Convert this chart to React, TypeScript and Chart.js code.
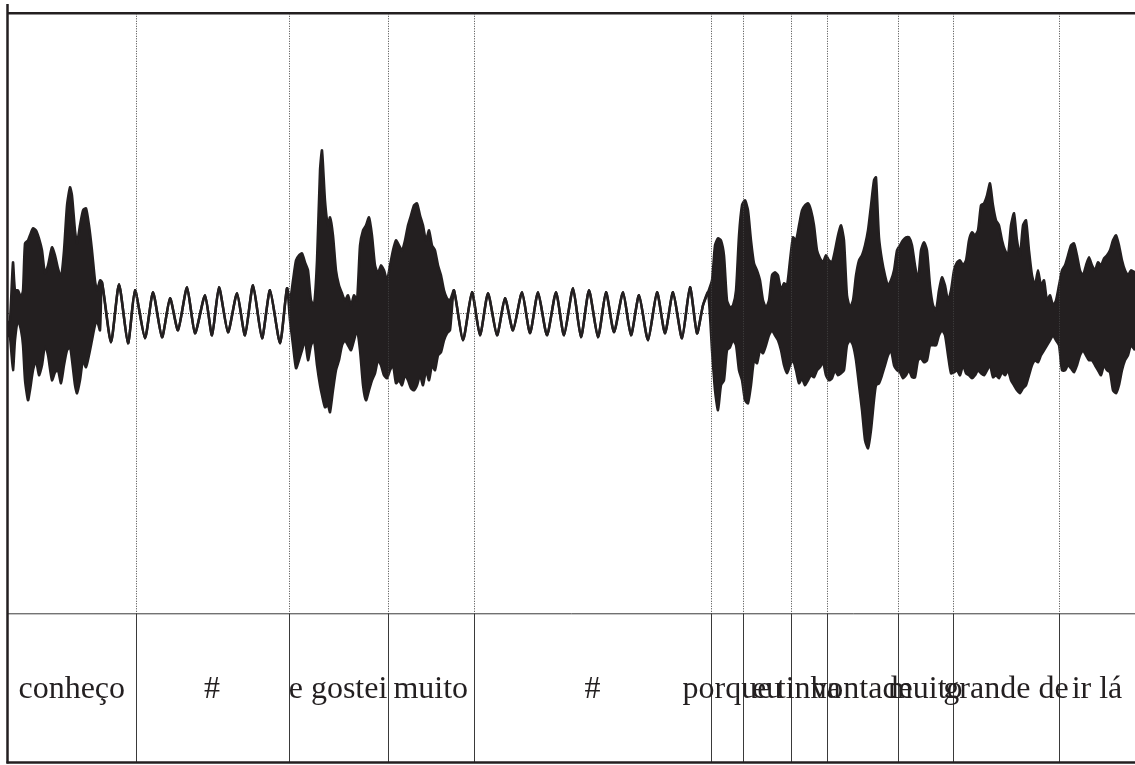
import React, { useEffect, useRef } from "react";
import { Chart, registerables } from "chart.js";

Chart.register(...registerables);

// time of each envelope sample, in ms
const waveTime = [
  0, 10, 25, 35, 50, 65, 75, 85, 100, 110, 125, 140, 155, 170, 185, 200, 220, 235, 250, 265, 280, 295, 310, 320, 335, 345, 360, 375, 390, 405, 420, 435, 445, 460,
  470, 515, 555, 600, 635, 685, 725, 770, 810, 850, 895, 935, 985, 1020, 1055, 1100, 1145, 1185, 1225, 1270, 1310, 1360, 1395,
  1410, 1425, 1440, 1455, 1470, 1485, 1500, 1515, 1530, 1545, 1560, 1570, 1585, 1600, 1610, 1625, 1640, 1655, 1670, 1685, 1700, 1715, 1730, 1745, 1760, 1775, 1790, 1805, 1820, 1835, 1850, 1865, 1880, 1895, 1910, 1925, 1940, 1955, 1970, 1985, 2000, 2015, 2030, 2045, 2060, 2075, 2090, 2105, 2120, 2135, 2150, 2165, 2180, 2195, 2210,
  2230, 2275, 2320, 2360, 2400, 2445, 2485, 2525, 2570, 2610, 2650, 2695, 2740, 2780, 2825, 2865, 2905, 2950, 2990, 3030, 3075, 3115, 3155, 3200, 3245, 3285, 3325, 3370, 3410, 3445, 3475, 3500,
  3520, 3535, 3550, 3565, 3580, 3595, 3610, 3625, 3640, 3655, 3670, 3685, 3700, 3715, 3730, 3745, 3760, 3775, 3790, 3805, 3820, 3835, 3850, 3865, 3880, 3895, 3910, 3925, 3940, 3955, 3970, 3985, 4000, 4015, 4030, 4045, 4060, 4075, 4090, 4105, 4120, 4135, 4150, 4165, 4180, 4195, 4210, 4225, 4240, 4255, 4270, 4285, 4300, 4315, 4330,
  4340,
  4355, 4370, 4385, 4400, 4415, 4430, 4445, 4460, 4475, 4490, 4505, 4520, 4535, 4550, 4565, 4580, 4595, 4610, 4625, 4640, 4655, 4670, 4685, 4700, 4715, 4730, 4745, 4760, 4775, 4790, 4805, 4820, 4835, 4850, 4865, 4880, 4895, 4910, 4925, 4940, 4955, 4970, 4985, 5000, 5015, 5030, 5045, 5060, 5075, 5090, 5105, 5120, 5135, 5150, 5165, 5180, 5195, 5210, 5225, 5240, 5255, 5270, 5285, 5300, 5315, 5330, 5345, 5360, 5375, 5390, 5405, 5420, 5435, 5450, 5465, 5480, 5495, 5510, 5525, 5540, 5555, 5570, 5585, 5600, 5615,
  5635,
];

// upper envelope of the waveform (amplitude units, full scale = 300)
const waveUpper = [
  -10, -7, 51, 23, 23, 16, 23, 70, 73, 78, 85, 83, 75, 63, 40, 48, 66, 58, 45, 36, 63, 108, 126, 118, 83, 70, 88, 103, 105, 88, 63, 33, 23, 33,
  31, -29, 29, -30, 23, -25, 21, -24, 15, -17, 26, -20, 18, -22, 26, -19, 20, -22, 28, -25, 23, -30, 25,
  13, 33, 53, 58, 60, 51, 43, 13, 8, 53, 143, 163, 113, 88, 96, 78, 43, 28, 20, 13, 18, 8, 18, 13, 68, 83, 88, 96, 78, 48, 40, 48, 43, 33, 48, 63, 73, 68, 63, 73, 88, 98, 108, 110, 98, 88, 73, 83, 68, 63, 48, 38, 23, 15, 13,
  23, -27, 21, -22, 20, -22, 15, -17, 21, -20, 21, -22, 21, -22, 25, -24, 23, -24, 21, -19, 21, -22, 18, -27, 21, -20, 21, -25, 26, -20, 8, 21,
  33, 68, 75, 73, 58, 13, 6, 8, 23, 78, 108, 113, 103, 73, 50, 43, 33, 13, 6, 13, 38, 41, 38, 23, 30, 28, 53, 76, 73, 88, 103, 108, 110, 103, 88, 63, 55, 51, 58, 53, 51, 63, 78, 88, 73, 18, 6, 13, 38, 53, 58, 68, 83, 108, 133,
  136,
  76, 53, 38, 28, 33, 43, 63, 68, 73, 76, 76, 68, 48, 33, 63, 71, 63, 28, 8, 3, 23, 36, 28, 13, 23, 43, 51, 53, 48, 53, 73, 81, 78, 83, 108, 110, 118, 130, 108, 93, 88, 73, 63, 58, 88, 100, 73, 58, 88, 93, 63, 38, 28, 43, 28, 33, 13, 18, 8, 13, 28, 43, 48, 58, 68, 70, 58, 43, 38, 48, 56, 48, 43, 51, 48, 55, 58, 63, 73, 78, 68, 53, 43, 38, 43,
  41,
];

// lower envelope of the waveform
const waveLower = [
  -22, -24, -57, -27, -7, -17, -32, -67, -87, -77, -57, -47, -62, -52, -32, -42, -67, -59, -57, -70, -52, -37, -34, -47, -72, -80, -67, -47, -54, -42, -27, -12, -7, -17,
  31, -29, 29, -30, 23, -25, 21, -24, 15, -17, 26, -20, 18, -22, 26, -19, 20, -22, 28, -25, 23, -30, 25,
  -7, -32, -55, -47, -37, -27, -47, -32, -27, -52, -72, -82, -94, -92, -99, -77, -57, -47, -32, -27, -32, -37, -27, -17, -37, -72, -87, -77, -67, -60, -47, -52, -62, -65, -57, -52, -70, -67, -72, -62, -67, -75, -77, -72, -62, -72, -57, -67, -52, -57, -42, -39, -27, -20, -17,
  23, -27, 21, -22, 20, -22, 15, -17, 21, -20, 21, -22, 21, -22, 25, -24, 23, -24, 21, -19, 21, -22, 18, -27, 21, -20, 21, -25, 26, -20, 8, 21,
  -37, -77, -97, -72, -67, -37, -34, -27, -32, -57, -67, -87, -90, -72, -47, -50, -37, -40, -32, -22, -17, -22, -27, -37, -52, -60, -52, -47, -57, -70, -65, -72, -67, -62, -64, -57, -54, -49, -62, -67, -65, -57, -62, -60, -57, -32, -27, -32, -47, -72, -97, -127, -135, -117, -87,
  -72,
  -70, -62, -52, -42, -37, -52, -57, -59, -65, -62, -57, -64, -64, -47, -45, -49, -47, -32, -32, -32, -22, -17, -22, -42, -60, -59, -57, -62, -52, -60, -62, -65, -62, -57, -60, -62, -57, -52, -64, -62, -65, -59, -62, -57, -67, -72, -77, -80, -75, -72, -62, -52, -47, -49, -42, -37, -32, -27, -22, -27, -32, -57, -57, -52, -55, -59, -52, -42, -37, -42, -47, -47, -52, -57, -62, -52, -57, -59, -77, -80, -72, -57, -47, -42, -32,
  -37,
];

// TextGrid interval boundaries (ms) and labels
const tierBounds = [0, 637.5, 1402.5, 1897.5, 2330, 3515, 3675, 3915, 4092.5, 4447.5, 4725, 5255, 5635];
const tierLabels = ["conheço", "#", "e gostei", "muito", "#", "porque", "eu", "tinha", "vontade", "muito", "grande de", "ir lá"];

const INK = "#231f20";

export default function App() {
  const ref = useRef<HTMLCanvasElement | null>(null);

  useEffect(() => {
    const canvas = ref.current;
    if (!canvas) return;
    const n = Math.min(waveTime.length, waveUpper.length, waveLower.length);
    const upper = [];
    const lower = [];
    for (let i = 0; i < n; i++) {
      upper.push({ x: waveTime[i], y: waveUpper[i] });
      lower.push({ x: waveTime[i], y: waveLower[i] });
    }

    const gridPlugin = {
      id: "praatGrid",
      beforeDatasetsDraw(chart: any) {
        const { ctx, chartArea, scales } = chart;
        ctx.save();
        ctx.strokeStyle = "#444";
        ctx.lineWidth = 1;
        ctx.setLineDash([1, 1.5]);
        const y0 = Math.round(scales.y.getPixelForValue(0)) + 0.5;
        ctx.beginPath();
        ctx.moveTo(chartArea.left, y0);
        ctx.lineTo(chartArea.right, y0);
        ctx.stroke();
        ctx.restore();
      },
      afterDatasetsDraw(chart: any) {
        const { ctx, chartArea, scales } = chart;
        ctx.save();
        ctx.strokeStyle = "#444";
        ctx.lineWidth = 1;
        ctx.setLineDash([1, 1.5]);
        for (let i = 1; i < tierBounds.length - 1; i++) {
          const x = Math.round(scales.x.getPixelForValue(tierBounds[i])) + 0.5;
          ctx.beginPath();
          ctx.moveTo(x, chartArea.top);
          ctx.lineTo(x, chartArea.bottom);
          ctx.stroke();
        }
        ctx.restore();
      },
      afterDraw(chart: any) {
        const { ctx, chartArea, scales } = chart;
        const tierTop = chartArea.bottom;
        const tierBottom = 762.5;
        ctx.save();
        ctx.setLineDash([]);
        // tier lines
        ctx.lineWidth = 1;
        ctx.strokeStyle = "#3a3a3a";
        ctx.beginPath();
        ctx.moveTo(chartArea.left, tierTop + 0.5);
        ctx.lineTo(chartArea.right, tierTop + 0.5);
        ctx.stroke();
        for (let i = 1; i < tierBounds.length - 1; i++) {
          const x = Math.round(scales.x.getPixelForValue(tierBounds[i])) + 0.5;
          ctx.beginPath();
          ctx.moveTo(x, tierTop);
          ctx.lineTo(x, tierBottom);
          ctx.stroke();
        }
        // frame
        ctx.strokeStyle = INK;
        ctx.lineWidth = 2.5;
        ctx.beginPath();
        ctx.moveTo(chartArea.left, 13.3);
        ctx.lineTo(chartArea.right, 13.3);
        ctx.stroke();
        ctx.beginPath();
        ctx.moveTo(chartArea.left - 0.5, 4);
        ctx.lineTo(chartArea.left - 0.5, tierBottom + 1);
        ctx.stroke();
        ctx.beginPath();
        ctx.moveTo(chartArea.left - 1.5, tierBottom);
        ctx.lineTo(chartArea.right, tierBottom);
        ctx.stroke();
        // labels
        ctx.fillStyle = INK;
        ctx.font = '32px "Liberation Serif", "Times New Roman", serif';
        ctx.textAlign = "center";
        ctx.textBaseline = "alphabetic";
        for (let i = 0; i < tierLabels.length; i++) {
          const a = scales.x.getPixelForValue(tierBounds[i]);
          const b = scales.x.getPixelForValue(tierBounds[i + 1]);
          ctx.fillText(tierLabels[i], (a + b) / 2, 698);
        }
        ctx.restore();
      },
    };

    const chart = new Chart(canvas, {
      type: "line",
      data: {
        datasets: [
          {
            data: upper,
            fill: "+1",
            backgroundColor: INK,
            borderColor: INK,
            borderWidth: 2.5,
            pointRadius: 0,
            tension: 0.2,
          },
          {
            data: lower,
            fill: false,
            backgroundColor: INK,
            borderColor: INK,
            borderWidth: 2.5,
            pointRadius: 0,
            tension: 0.2,
          },
        ],
      },
      options: {
        animation: false,
        responsive: true,
        maintainAspectRatio: false,
        layout: { padding: { left: 8, top: 13.3, right: 0, bottom: 151.7 } },
        scales: {
          x: { type: "linear", min: 0, max: 5635, display: false },
          y: { type: "linear", min: -300, max: 300, display: false },
        },
        plugins: {
          legend: { display: false },
          tooltip: { enabled: false },
        },
      },
      plugins: [gridPlugin],
    });
    return () => chart.destroy();
  }, []);

  return (
    <div style={{ position: "absolute", left: 0, top: 0, width: 1135, height: 765, background: "#fff" }}>
      <canvas ref={ref} />
    </div>
  );
}
